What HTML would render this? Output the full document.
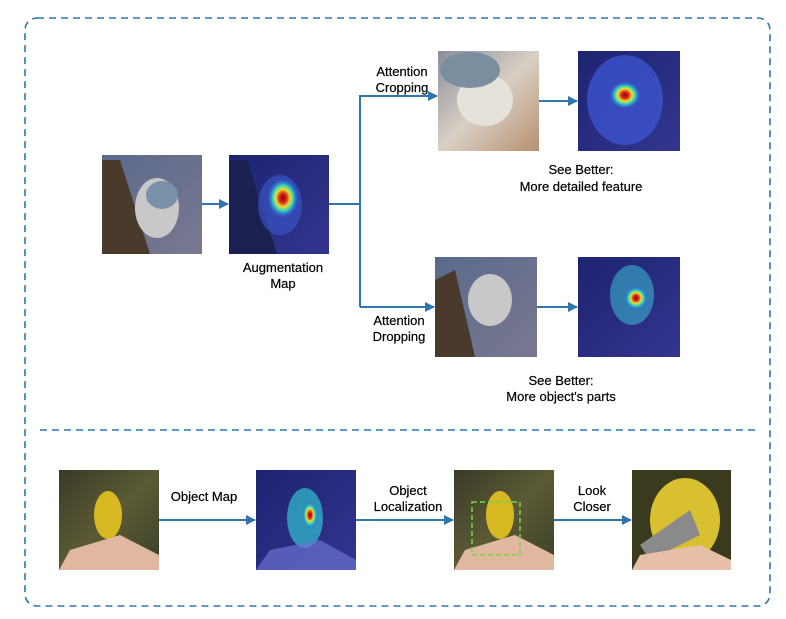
<!DOCTYPE html>
<html><head><meta charset="utf-8"><style>
html,body{margin:0;padding:0;background:#fff;}
svg{display:block;}
text{font-family:"Liberation Sans",sans-serif;font-size:13px;fill:#000;text-anchor:middle;stroke:#000;stroke-width:0.2px;}
</style></head><body>
<svg width="786" height="619" viewBox="0 0 786 619" xmlns="http://www.w3.org/2000/svg">
<defs>
<marker id="ah" markerWidth="10" markerHeight="10" refX="9" refY="5" orient="auto" markerUnits="userSpaceOnUse">
<path d="M0,0 L10,5 L0,10 z" fill="#3274ad"/></marker>
<linearGradient id="bg1" x1="0" y1="0" x2="1" y2="1"><stop offset="0" stop-color="#5a6a8c"/><stop offset="1" stop-color="#7a7890"/></linearGradient>
<linearGradient id="blue" x1="0" y1="0" x2="1" y2="1"><stop offset="0" stop-color="#1d2470"/><stop offset="1" stop-color="#33358f"/></linearGradient>
<radialGradient id="heat"><stop offset="0" stop-color="#8b0000"/><stop offset="0.25" stop-color="#e03020"/><stop offset="0.45" stop-color="#e8e030"/><stop offset="0.65" stop-color="#30d0c0"/><stop offset="1" stop-color="#3050e0" stop-opacity="0"/></radialGradient>
<linearGradient id="green" x1="0" y1="0" x2="1" y2="1"><stop offset="0" stop-color="#3a3a28"/><stop offset="0.5" stop-color="#5b5a35"/><stop offset="1" stop-color="#3a4028"/></linearGradient>
<linearGradient id="crop" x1="0" y1="0" x2="1" y2="1"><stop offset="0" stop-color="#8a8d9a"/><stop offset="0.5" stop-color="#d8d0c4"/><stop offset="1" stop-color="#b89070"/></linearGradient>
</defs>
<rect x="25" y="18" width="745" height="588" rx="12" fill="none" stroke="#2e75b6" stroke-width="1.6" stroke-dasharray="7,5"/>
<line x1="40" y1="430" x2="755" y2="430" stroke="#2e75b6" stroke-width="1.4" stroke-dasharray="7,5"/>

<rect x="102" y="155" width="100" height="99" fill="url(#bg1)"/>
<path d="M102,160 L120,160 L150,254 L102,254z" fill="#4a3a2c"/>
<ellipse cx="157" cy="208" rx="22" ry="30" fill="#c8c8c8"/>
<ellipse cx="162" cy="195" rx="16" ry="14" fill="#7a90a8"/>

<rect x="229" y="155" width="100" height="99" fill="url(#blue)"/>
<path d="M229,160 L247,160 L277,254 L229,254z" fill="#1a2050"/>
<ellipse cx="280" cy="205" rx="22" ry="30" fill="#3a5ad0" opacity="0.6"/>
<ellipse cx="283" cy="198" rx="16" ry="20" fill="url(#heat)"/>

<rect x="438" y="51" width="101" height="100" fill="url(#crop)"/>
<ellipse cx="485" cy="100" rx="28" ry="26" fill="#e6e2da"/>
<ellipse cx="470" cy="70" rx="30" ry="18" fill="#7a8ea0"/>

<rect x="578" y="51" width="102" height="100" fill="url(#blue)"/>
<ellipse cx="625" cy="100" rx="38" ry="45" fill="#3f5ad8" opacity="0.7"/>
<ellipse cx="625" cy="95" rx="16" ry="14" fill="url(#heat)"/>

<rect x="435" y="257" width="102" height="100" fill="url(#bg1)"/>
<path d="M435,280 L455,270 L475,357 L435,357z" fill="#4a3a2c"/>
<ellipse cx="490" cy="300" rx="22" ry="26" fill="#c8c8c8"/>

<rect x="578" y="257" width="102" height="100" fill="url(#blue)"/>
<ellipse cx="632" cy="295" rx="22" ry="30" fill="#3ab0d0" opacity="0.6"/>
<ellipse cx="636" cy="298" rx="12" ry="12" fill="url(#heat)"/>

<line x1="202" y1="204" x2="228" y2="204" stroke="#3274ad" stroke-width="2" marker-end="url(#ah)"/>
<polyline points="329,204 360,204" fill="none" stroke="#3274ad" stroke-width="2"/>
<polyline points="360,307 360,96 437,96" fill="none" stroke="#3274ad" stroke-width="2" marker-end="url(#ah)"/>
<line x1="360" y1="307" x2="434" y2="307" stroke="#3274ad" stroke-width="2" marker-end="url(#ah)"/>
<line x1="539" y1="101" x2="577" y2="101" stroke="#3274ad" stroke-width="2" marker-end="url(#ah)"/>
<line x1="537" y1="307" x2="577" y2="307" stroke="#3274ad" stroke-width="2" marker-end="url(#ah)"/>

<text x="402" y="76">Attention</text><text x="402" y="92">Cropping</text>
<text x="581" y="174">See Better:</text><text x="581" y="191">More detailed feature</text>
<text x="283" y="272">Augmentation</text><text x="283" y="288">Map</text>
<text x="399" y="325">Attention</text><text x="399" y="341">Dropping</text>
<text x="561" y="385">See Better:</text><text x="561" y="401">More object's parts</text>

<rect x="59" y="470" width="100" height="100" fill="url(#green)"/>
<ellipse cx="108" cy="515" rx="14" ry="24" fill="#d8b820"/>
<path d="M59,570 L70,550 L120,535 L159,555 L159,570z" fill="#e0b8a0"/>

<rect x="256" y="470" width="100" height="100" fill="url(#blue)"/>
<ellipse cx="305" cy="518" rx="18" ry="30" fill="#30c0d0" opacity="0.7"/>
<ellipse cx="310" cy="515" rx="8" ry="14" fill="url(#heat)"/>
<path d="M256,570 L270,550 L320,540 L356,560 L356,570z" fill="#6a70d0" opacity="0.7"/>

<rect x="454" y="470" width="100" height="100" fill="url(#green)"/>
<ellipse cx="500" cy="515" rx="14" ry="24" fill="#d8b820"/>
<path d="M454,570 L465,550 L515,535 L554,555 L554,570z" fill="#e0b8a0"/>
<rect x="472" y="502" width="48" height="53" fill="none" stroke="#7ed04a" stroke-width="1.5" stroke-dasharray="5,3"/>

<rect x="632" y="470" width="99" height="100" fill="#3a3a1e"/>
<ellipse cx="685" cy="520" rx="35" ry="42" fill="#d8c030"/>
<path d="M640,545 L690,510 L700,535 L650,560z" fill="#8a8a8a"/>
<path d="M632,570 L640,555 L700,545 L731,560 L731,570z" fill="#e8c0a8"/>

<line x1="159" y1="520" x2="255" y2="520" stroke="#3274ad" stroke-width="2" marker-end="url(#ah)"/>
<line x1="356" y1="520" x2="453" y2="520" stroke="#3274ad" stroke-width="2" marker-end="url(#ah)"/>
<line x1="554" y1="520" x2="631" y2="520" stroke="#3274ad" stroke-width="2" marker-end="url(#ah)"/>
<text x="204" y="501">Object Map</text>
<text x="408" y="495">Object</text><text x="408" y="511">Localization</text>
<text x="592" y="495">Look</text><text x="592" y="511">Closer</text>
</svg>
</body></html>
